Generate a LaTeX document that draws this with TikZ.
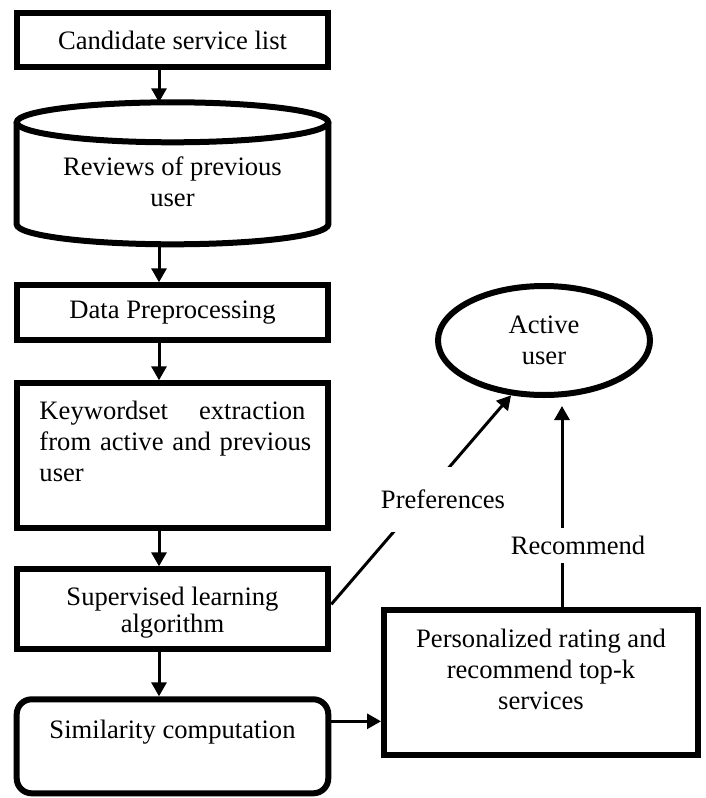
\documentclass[tikz,border=0pt]{standalone}
\usepackage{fontspec}
\setmainfont{Liberation Serif}
\usetikzlibrary{positioning,shapes.geometric,arrows.meta}

\tikzset{
  block/.style={draw, line width=3pt, minimum width=155.8pt, align=center},
  arr/.style={line width=1.5pt, -{Triangle[length=7pt,width=7.5pt]}},
  lbl/.style={fill=white, inner xsep=0pt}
}

\begin{document}
\begin{tikzpicture}[x=0.5pt, y=-0.5pt, font=\fontsize{13.3}{15.5}\selectfont]
	\useasboundingbox (0,0) rectangle (706,798);
	\node[block, minimum height=27.3pt] (cand) at (172.5,40) {Candidate service list};
	\node[minimum width=155.8pt, minimum height=71pt, outer sep=0pt, align=center, text height=33pt] (reviews) [below=16pt of cand] {Reviews of previous\\user};
	\draw[line width=3pt] ([yshift=-10pt]reviews.north) ellipse [x radius=77.9pt, y radius=10pt];
	\draw[line width=3pt] ([yshift=-10pt]reviews.north west) -- ([yshift=10pt]reviews.south west) arc[start angle=180, end angle=360, x radius=77.9pt, y radius=10pt] -- ([yshift=-10pt]reviews.north east);
	\node[block, minimum height=27.5pt] (prep) [below=19pt of reviews] {Data Preprocessing};
	\node[block, minimum height=72.5pt, text width=133pt, align=left, text depth=45.5pt] (keyword) [below=18.5pt of prep] {Keywordset\hfill extraction\\\mbox{from active and previous}\\user};
	\node[block, minimum height=40pt, text depth=0pt, font=\fontsize{13.3}{13.5}\selectfont] (sup) [below=17.5pt of keyword] {Supervised learning\\algorithm};
	\node[block, minimum height=47pt, rounded corners=7.5pt, text depth=17pt] (sim) [below=22pt of sup] {Similarity computation};
	\node[block, minimum width=157pt, minimum height=72.5pt, text depth=13pt] (pers) at (541,682) {Personalized rating and\\recommend top-k\\services};
	\node[draw, ellipse, line width=3pt, inner sep=0pt, minimum width=106pt, minimum height=54.5pt, align=center] (user) at (544,340.5) {Active\\user};
	\draw[arr] ([xshift=-6.75pt]cand.south) -- ([xshift=-6.75pt]reviews.north);
	\draw[arr] ([xshift=-6.75pt]reviews.south) -- ([xshift=-6.75pt]prep.north);
	\draw[arr] ([xshift=-6.75pt]prep.south) -- ([xshift=-6.75pt]keyword.north);
	\draw[arr] ([xshift=-6.75pt]keyword.south) -- ([xshift=-6.75pt]sup.north);
	\draw[arr] ([xshift=-6.75pt]sup.south) -- ([xshift=-6.75pt]sim.north);
	\draw[arr] ([yshift=12.5pt]sim.east) -- ([yshift=12.5pt]sim.east -| pers.west);
	\draw[arr] ([yshift=2.5pt]sup.east) -- (user.239);
	\draw[arr, shorten >=4pt] ([xshift=10.5pt]pers.north) -- ([xshift=10.5pt]pers.north |- user.south);
	\node[lbl, minimum height=32.5pt] (pref) at (443,499) {Preferences};
	\node[lbl, minimum height=17.5pt] (rec) at (578,545) {Recommend};
\end{tikzpicture}
\end{document}
